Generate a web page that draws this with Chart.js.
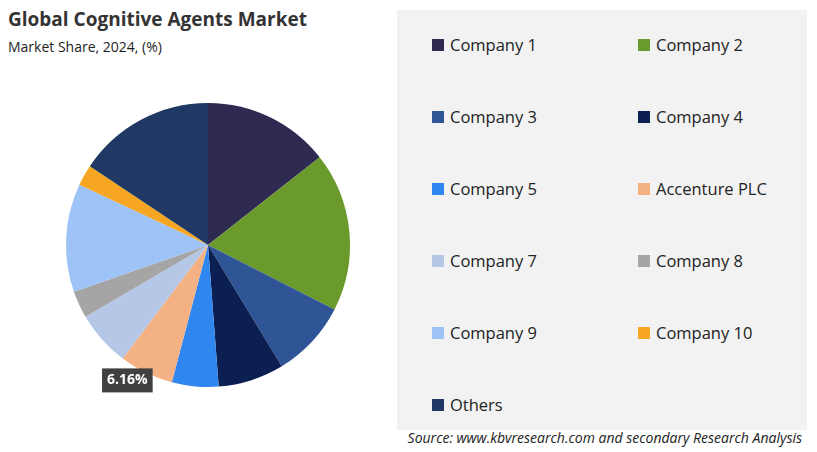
<!DOCTYPE html>
<html><head><meta charset="utf-8">
<script src="https://cdn.jsdelivr.net/npm/chart.js@4.4.0/dist/chart.umd.min.js"></script>
<style>
body{margin:0;width:817px;height:452px;background:#fff;font-family:"Open Sans",sans-serif;position:relative;overflow:hidden}
#t{position:absolute;left:8px;top:6px;font-size:19px;font-weight:bold;color:#333}
#s{position:absolute;left:8px;top:37px;font-size:14px;color:#222}
#wrap{position:absolute;left:38px;top:75px;width:340px;height:340px}
#panel{position:absolute;left:397px;top:10px;width:410px;height:420px;background:#f2f2f2}
.li{position:absolute;font-size:16.5px;color:#222;display:flex;align-items:center}
.li span{display:inline-block;width:12px;height:12px;margin-right:6px}
#src{position:absolute;right:15px;top:428px;font-size:14px;font-style:italic;color:#222}
</style></head><body>
<div id="t">Global Cognitive Agents Market</div>
<div id="s">Market Share, 2024, (%)</div>
<div id="panel"></div>
<div id="wrap"><canvas id="c"></canvas></div>
<div id="src">Source: www.kbvresearch.com and secondary Research Analysis</div>
<script>
const labels=["Company 1","Company 2","Company 3","Company 4","Company 5","Accenture PLC","Company 7","Company 8","Company 9","Company 10","Others"];
const values=[14.4,18.1,8.8,7.5,5.3,6.16,6.3,3.1,12.3,2.4,15.64];
const colors=["#2e2a52","#6a9a2c","#2f5597","#0b1f52","#2f86ef","#f4b183","#b4c7e7","#a5a5a5","#9dc3f7","#f6a623","#203864"];
const labelIdx=5;
labels.forEach((l,i)=>{const d=document.createElement('div');d.className='li';
 d.style.left=(432+(i%2)*206)+'px';d.style.top=(33+Math.floor(i/2)*72)+'px';
 d.innerHTML='<span style="background:'+colors[i]+'"></span>'+l;document.body.appendChild(d);});
const lbl={id:'lbl',afterDraw(ch){const a=ch.getDatasetMeta(0).data[labelIdx];const ctx=ch.ctx;
 const mid=(a.startAngle+a.endAngle)/2;const r=a.outerRadius+4;
 const x=a.x+Math.cos(mid)*r-17,y=a.y+Math.sin(mid)*r+4;const t=values[labelIdx].toFixed(2)+'%';
 ctx.save();ctx.font='bold 14px "Open Sans"';const w=ctx.measureText(t).width+10;
 ctx.fillStyle='#404040';ctx.fillRect(x-w/2,y-12,w,24);ctx.fillStyle='#fff';ctx.textAlign='center';ctx.textBaseline='middle';ctx.fillText(t,x,y);ctx.restore();}};
new Chart(document.getElementById('c'),{type:'pie',data:{labels,datasets:[{data:values,backgroundColor:colors,borderWidth:0}]},
options:{responsive:true,maintainAspectRatio:false,animation:false,layout:{padding:28},plugins:{legend:{display:false},tooltip:{enabled:false}}},plugins:[lbl]});
</script></body></html>
